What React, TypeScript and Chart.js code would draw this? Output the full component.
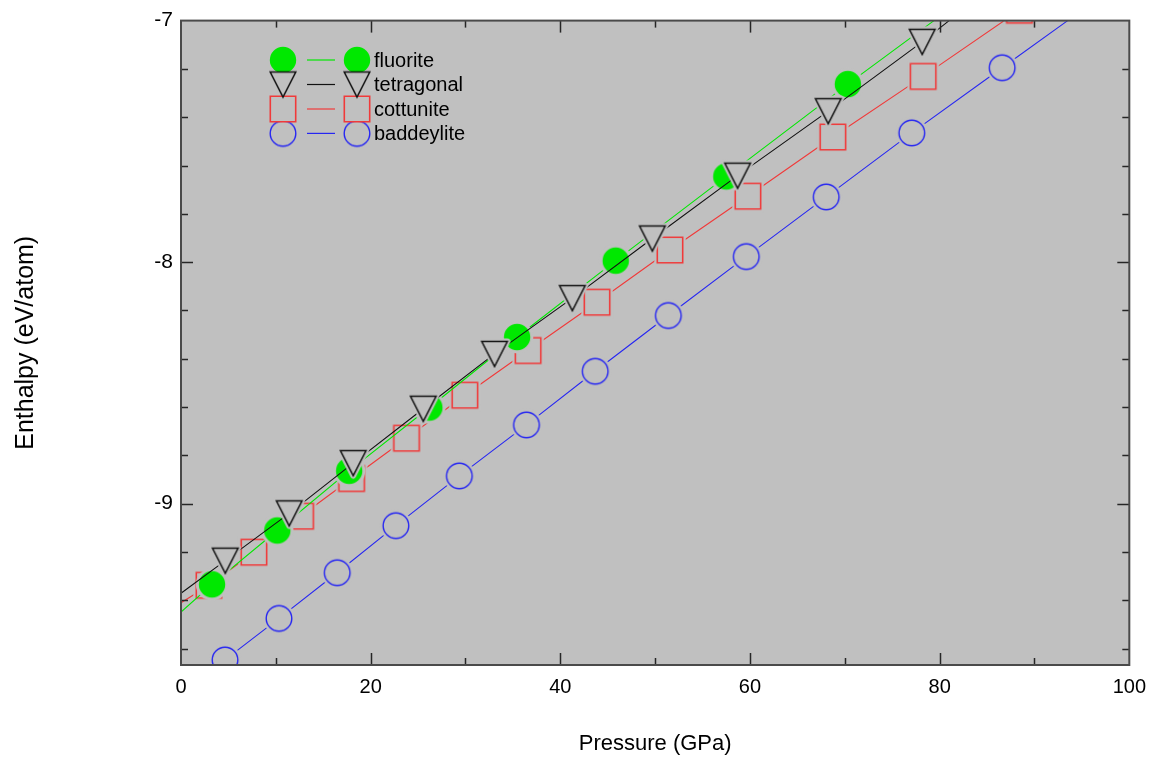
import React, { useEffect, useRef } from 'react';
import { Chart, registerables } from 'chart.js';

Chart.register(...registerables);

// ---- axis ranges and ticks ----
const X_MIN = 0;
const X_MAX = 100;
const Y_MIN = -9.668;
const Y_MAX = -7;
const xTickValues = [0, 20, 40, 60, 80, 100];
const xMinorTickValues = [10, 30, 50, 70, 90];
const yTickValues = [-9, -8, -7];
const yMinorTickValues = [-9.6, -9.4, -9.2, -8.8, -8.6, -8.4, -8.2, -7.8, -7.6, -7.4, -7.2];

const xTitle = 'Pressure (GPa)';
const yTitle = 'Enthalpy (eV/atom)';
const seriesNames = ['fluorite', 'tetragonal', 'cottunite', 'baddeylite'];

// ---- data: marker points (pressure GPa, enthalpy eV/atom) ----
const fluoriteP = [3.27, 10.15, 17.73, 26.19, 35.44, 45.84, 57.5, 70.32];
const fluoriteH = [-9.334, -9.111, -8.864, -8.602, -8.31, -7.994, -7.645, -7.263];

const tetragonalP = [4.67, 11.41, 18.16, 25.55, 33.06, 41.27, 49.7, 58.69, 68.25, 78.16];
const tetragonalH = [-9.236, -9.04, -8.832, -8.607, -8.38, -8.149, -7.902, -7.642, -7.375, -7.088];

const cottuniteP = [2.95, 7.69, 12.61, 17.99, 23.78, 29.93, 36.6, 43.87, 51.56, 59.78, 68.74, 78.26, 88.41];
const cottuniteH = [-9.338, -9.201, -9.052, -8.896, -8.729, -8.551, -8.366, -8.166, -7.95, -7.727, -7.482, -7.231, -6.957];

const baddeyliteP = [4.64, 10.33, 16.47, 22.66, 29.35, 36.43, 43.68, 51.39, 59.61, 68.04, 77.06, 86.59];
const baddeyliteH = [-9.647, -9.475, -9.286, -9.091, -8.885, -8.674, -8.452, -8.221, -7.977, -7.73, -7.465, -7.195];

// ---- data: extra curve points where lines run past the markers ----
const fluoriteLineStart = [[0, -9.449]];
const fluoriteLineEnd = [[79.4, -7.0]];
const tetragonalLineStart = [[0, -9.371]];
const tetragonalLineEnd = [[81.0, -7.0]];
const cottuniteLineStart = [[0, -9.515], [0.01, -9.41]];
const cottuniteLineEnd: number[][] = [];
const baddeyliteLineStart: number[][] = [];
const baddeyliteLineEnd = [[93.5, -7.0]];

// ---- styles ----
const PLOT_BG = '#c0c0c0';
const GREEN = '#00e800';
const BLACK = '#111111';
const RED = '#f03a3a';
const BLUE = '#2626f2';
const TICK_FONT = "'Liberation Sans Narrow', 'Liberation Sans', Arial, sans-serif";
const TEXT_FONT = "'Liberation Sans', Arial, sans-serif";

const toPts = (xs: number[], ys: number[]) => xs.map((x, i) => ({ x, y: ys[i] }));
const pairPts = (arr: number[][]) => arr.map(([x, y]) => ({ x, y }));

function makeCanvas(w: number, h: number, draw: (g: CanvasRenderingContext2D) => void) {
  const c = document.createElement('canvas');
  c.width = w;
  c.height = h;
  const g = c.getContext('2d')!;
  draw(g);
  return c;
}

function makeMarkers(halo: number) {
  const S = 38;
  const C = S / 2;
  const greenDot = makeCanvas(S, S, (g) => {
    g.beginPath();
    g.arc(C, C, 13.2, 0, Math.PI * 2);
    if (halo) {
      g.strokeStyle = PLOT_BG;
      g.lineWidth = halo;
      g.stroke();
    }
    g.fillStyle = GREEN;
    g.fill();
  });
  const triDown = makeCanvas(S, S, (g) => {
    g.beginPath();
    g.moveTo(C - 12.8, C - 12.5);
    g.lineTo(C + 12.8, C - 12.5);
    g.lineTo(C, C + 12.5);
    g.closePath();
    if (halo) {
      g.lineJoin = 'round';
      g.strokeStyle = PLOT_BG;
      g.lineWidth = halo;
      g.stroke();
    }
    g.fillStyle = PLOT_BG;
    g.fill();
    g.lineJoin = 'miter';
    g.strokeStyle = BLACK;
    g.lineWidth = 1.5;
    g.stroke();
  });
  const redSquare = makeCanvas(S, S, (g) => {
    g.beginPath();
    g.rect(C - 12.7, C - 12.7, 25.4, 25.4);
    if (halo) {
      g.strokeStyle = PLOT_BG;
      g.lineWidth = halo;
      g.stroke();
    }
    g.fillStyle = PLOT_BG;
    g.fill();
    g.strokeStyle = RED;
    g.lineWidth = 1.6;
    g.stroke();
  });
  const blueRing = makeCanvas(S, S, (g) => {
    g.beginPath();
    g.arc(C, C, 12.8, 0, Math.PI * 2);
    if (halo) {
      g.strokeStyle = PLOT_BG;
      g.lineWidth = halo;
      g.stroke();
    }
    g.fillStyle = PLOT_BG;
    g.fill();
    g.strokeStyle = BLUE;
    g.lineWidth = 1.4;
    g.stroke();
  });
  return [greenDot, triDown, redSquare, blueRing];
}

export default function App() {
  const ref = useRef<HTMLCanvasElement>(null);

  useEffect(() => {
    const canvas = ref.current!;

    const markerImgs = makeMarkers(6);
    const legendImgs = makeMarkers(0);
    const colors = [GREEN, BLACK, RED, BLUE];

    const curves = [
      [...pairPts(fluoriteLineStart), ...toPts(fluoriteP, fluoriteH), ...pairPts(fluoriteLineEnd)],
      [...pairPts(tetragonalLineStart), ...toPts(tetragonalP, tetragonalH), ...pairPts(tetragonalLineEnd)],
      [...pairPts(cottuniteLineStart), ...toPts(cottuniteP, cottuniteH), ...pairPts(cottuniteLineEnd)],
      [...pairPts(baddeyliteLineStart), ...toPts(baddeyliteP, baddeyliteH), ...pairPts(baddeyliteLineEnd)],
    ];
    const markers = [
      toPts(fluoriteP, fluoriteH),
      toPts(tetragonalP, tetragonalH),
      toPts(cottuniteP, cottuniteH),
      toPts(baddeyliteP, baddeyliteH),
    ];
    // stacking: black on top, then green, red, blue (lower order = drawn later)
    const stackRank = [1, 0, 2, 3];

    const lineSets = curves.map((data, i) => ({
      label: seriesNames[i] + ' line',
      data,
      borderColor: colors[i],
      borderWidth: 1.1,
      pointRadius: 0,
      fill: false,
      tension: 0,
      order: stackRank[i] * 2 + 1,
      clip: 0,
    }));
    const markerSets = markers.map((data, i) => ({
      label: seriesNames[i],
      data,
      showLine: false,
      pointStyle: markerImgs[i],
      pointRadius: 13,
      borderColor: colors[i],
      backgroundColor: colors[i],
      order: stackRank[i] * 2,
      clip: 0,
    }));

    const framePlugin = {
      id: 'frameTicksLegend',
      beforeDraw(chart: any) {
        const { ctx, chartArea: a } = chart;
        ctx.save();
        ctx.fillStyle = PLOT_BG;
        ctx.fillRect(a.left, a.top, a.right - a.left, a.bottom - a.top);
        ctx.restore();
      },
      afterDraw(chart: any) {
        const { ctx, chartArea: a, scales } = chart;
        const xs = scales.x;
        const ys = scales.y;
        ctx.save();
        const seg = (x1: number, y1: number, x2: number, y2: number) => {
          ctx.beginPath();
          ctx.moveTo(x1, y1);
          ctx.lineTo(x2, y2);
          ctx.stroke();
        };
        ctx.lineWidth = 1.5;
        ctx.strokeStyle = '#262626';
        const xt = (v: number, len: number) => {
          const px = Math.round(xs.getPixelForValue(v)) + 0.5;
          seg(px, a.bottom, px, a.bottom - len);
          seg(px, a.top, px, a.top + len);
        };
        const yt = (v: number, len: number) => {
          const py = Math.round(ys.getPixelForValue(v)) + 0.5;
          seg(a.left, py, a.left + len, py);
          seg(a.right, py, a.right - len, py);
        };
        xTickValues.filter((v) => v > X_MIN && v < X_MAX).forEach((v) => xt(v, 12));
        xMinorTickValues.forEach((v) => xt(v, 7));
        yTickValues.filter((v) => v > Y_MIN && v < Y_MAX).forEach((v) => yt(v, 12));
        yMinorTickValues.forEach((v) => yt(v, 7));

        // frame
        ctx.strokeStyle = '#4a4a4a';
        ctx.lineWidth = 2;
        ctx.strokeRect(a.left, a.top, a.right - a.left, a.bottom - a.top);

        // legend
        const rowsY = [60, 84.5, 109, 133.4];
        ctx.font = `20px ${TEXT_FONT}`;
        ctx.textBaseline = 'middle';
        ctx.textAlign = 'left';
        seriesNames.forEach((name, i) => {
          const y = rowsY[i];
          ctx.strokeStyle = colors[i];
          ctx.lineWidth = 1.2;
          seg(307, y, 335, y);
        });
        [3, 2, 0, 1].forEach((i) => {
          const y = rowsY[i];
          const img = legendImgs[i];
          ctx.drawImage(img, 283 - img.width / 2, y - img.height / 2);
          ctx.drawImage(img, 357 - img.width / 2, y - img.height / 2);
        });
        seriesNames.forEach((name, i) => {
          ctx.fillStyle = '#000';
          ctx.fillText(name, 374, rowsY[i] + 1);
        });
        ctx.restore();
      },
    };

    const chart = new Chart(canvas, {
      type: 'line',
      data: { datasets: [...markerSets, ...lineSets] as any },
      options: {
        responsive: false,
        animation: false,
        devicePixelRatio: 1,
        events: [],
        layout: { padding: { top: 18, right: 26, left: 0, bottom: 0 } },
        plugins: { legend: { display: false }, tooltip: { enabled: false } },
        scales: {
          x: {
            type: 'linear',
            min: X_MIN,
            max: X_MAX,
            afterFit: (s: any) => {
              s.height = 94;
            },
            afterBuildTicks: (s: any) => {
              s.ticks = xTickValues.map((value) => ({ value }));
            },
            grid: { display: false, drawTicks: false },
            border: { display: false },
            ticks: {
              padding: 10,
              color: '#000',
              maxRotation: 0,
              autoSkip: false,
              font: { family: TICK_FONT, size: 20 },
            },
            title: {
              display: true,
              text: xTitle,
              color: '#000',
              padding: { top: 0, bottom: 2 },
              font: { family: TICK_FONT, size: 22 },
            },
          },
          y: {
            type: 'linear',
            min: Y_MIN,
            max: Y_MAX,
            afterFit: (s: any) => {
              s.width = 181;
            },
            afterBuildTicks: (s: any) => {
              s.ticks = yTickValues.map((value) => ({ value }));
            },
            grid: { display: false, drawTicks: false },
            border: { display: false },
            ticks: {
              padding: 8,
              color: '#000',
              autoSkip: false,
              font: { family: TICK_FONT, size: 21 },
            },
            title: {
              display: true,
              text: yTitle,
              color: '#000',
              padding: { top: 11, bottom: 0 },
              font: { family: TEXT_FONT, size: 25 },
            },
          },
        },
      } as any,
      plugins: [framePlugin],
    });

    return () => chart.destroy();
  }, []);

  return (
    <canvas
      ref={ref}
      width={1156}
      height={759}
      style={{ position: 'absolute', left: 0, top: 0, width: 1156, height: 759, background: '#fff' }}
    />
  );
}
